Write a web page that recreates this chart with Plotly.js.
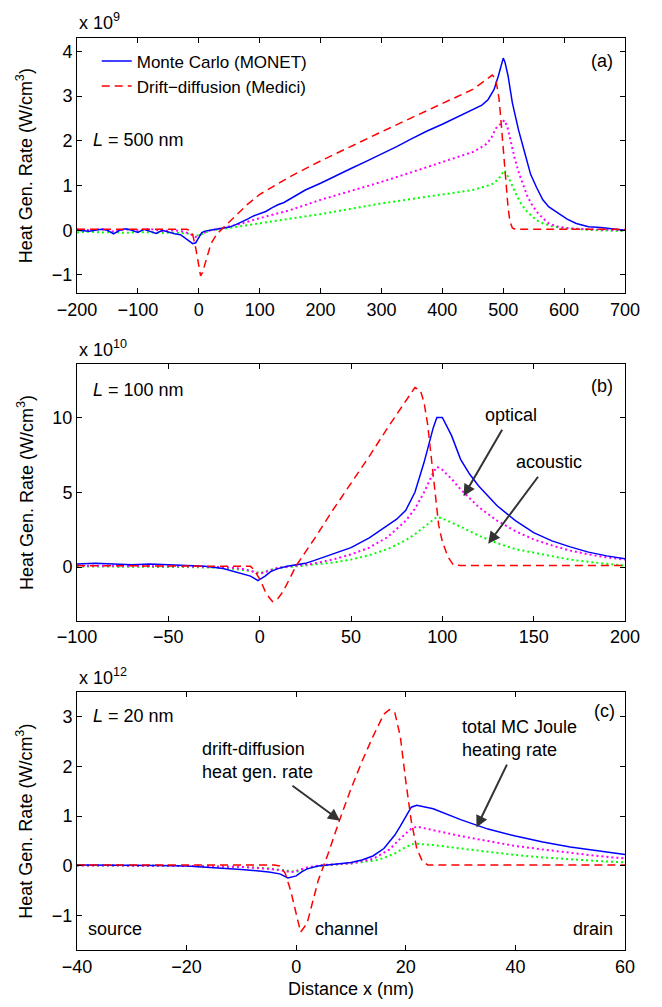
<!DOCTYPE html>
<html>
<head>
<meta charset="utf-8">
<script src="https://cdn.plot.ly/plotly-3.0.1.min.js"></script>
<style>html,body{margin:0;padding:0;background:#fff;}#chart{width:662px;height:1007px;}</style>
</head>
<body>
<div id="chart"></div>
<script>
// ---------- Panel (a): L = 500 nm, values in 1e9 W/cm^3 ----------
var aX_mc = [-200,-180,-170,-160,-150,-140,-130,-120,-110,-100,-90,-80,-70,-60,-50,-40,-30,-20,-15,-10,-5,0,5,10,20,30,40,50,60,70,80,90,100,110,120,130,140,150,160,175,200,225,250,275,300,325,350,375,400,425,450,465,475,485,492,497,500,503,508,515,525,535,545,555,565,575,590,605,620,640,660,680,700];
var aY_mc = [0.0,-0.02,0.0,0.02,0.0,-0.08,0.0,0.03,0.0,-0.05,0.02,-0.02,-0.07,0.0,-0.04,-0.08,-0.1,-0.2,-0.27,-0.3,-0.28,-0.15,-0.05,-0.02,0.0,0.02,0.04,0.07,0.12,0.18,0.25,0.32,0.37,0.42,0.5,0.57,0.62,0.7,0.78,0.9,1.05,1.22,1.38,1.54,1.7,1.87,2.05,2.22,2.37,2.53,2.7,2.8,2.92,3.15,3.45,3.72,3.85,3.75,3.45,2.85,2.25,1.75,1.25,0.95,0.68,0.52,0.38,0.25,0.15,0.08,0.06,0.03,0.0];
var aX_dd = [-200,-20,-15,-10,-5,0,3,6,10,15,20,30,40,50,60,80,100,125,150,200,250,300,350,400,450,482,487,490,493,496,499,502,505,508,511,515,520,700];
var aY_dd = [0.02,0.02,0.0,-0.1,-0.4,-0.85,-1.02,-0.95,-0.75,-0.5,-0.3,-0.08,0.05,0.18,0.33,0.58,0.8,1.0,1.2,1.55,1.88,2.2,2.52,2.83,3.15,3.47,3.4,3.2,2.95,2.5,2.0,1.5,0.95,0.5,0.2,0.05,0.02,0.02];
var aX_opt = [-200,-180,-160,-140,-120,-100,-80,-60,-40,-25,-15,-5,0,10,20,40,70,100,150,200,250,300,350,400,450,470,480,488,495,502,507,512,519,526,533,540,548,556,565,575,590,610,640,700];
var aY_opt = [0.02,0.0,0.03,-0.03,0.02,0.0,0.03,-0.02,0.0,-0.03,-0.08,-0.15,-0.12,-0.05,0.0,0.05,0.15,0.27,0.45,0.68,0.88,1.08,1.3,1.52,1.75,1.9,2.05,2.28,2.38,2.46,2.3,2.0,1.6,1.27,1.0,0.75,0.55,0.4,0.27,0.15,0.08,0.04,0.02,0.0];
var aX_ac = [-200,-180,-160,-140,-120,-100,-80,-60,-40,-20,-10,0,10,20,50,100,150,200,250,300,350,400,450,475,485,495,502,508,515,522,529,537,545,555,566,580,595,620,650,700];
var aY_ac = [-0.05,-0.03,-0.05,-0.04,-0.06,-0.04,-0.05,-0.06,-0.05,-0.07,-0.1,-0.12,-0.05,0.0,0.05,0.15,0.25,0.36,0.48,0.6,0.7,0.8,0.9,1.0,1.05,1.2,1.34,1.2,0.97,0.78,0.6,0.45,0.34,0.22,0.15,0.09,0.05,0.02,0.0,-0.02];

// ---------- Panel (b): L = 100 nm, values in 1e10 W/cm^3 ----------
var bX_mc = [-100,-90,-80,-70,-60,-50,-40,-30,-20,-15,-10,-5,-1,3,6,10,15,20,25,30,40,50,60,70,75,80,85,90,95,97,100,105,110,115,120,130,140,150,160,170,180,190,200];
var bY_mc = [0.2,0.25,0.2,0.15,0.2,0.15,0.1,0.05,-0.1,-0.25,-0.4,-0.6,-0.9,-0.6,-0.3,-0.1,0.05,0.15,0.25,0.45,0.85,1.3,1.95,2.75,3.2,3.8,5.0,7.0,9.3,10.0,10.0,8.8,7.2,6.2,5.4,4.1,3.1,2.3,1.75,1.35,1.0,0.75,0.55];
var bX_dd = [-100,-10,-5,-3,0,3,5,7,10,13,16,20,25,30,40,50,60,70,80,85,88,90,92,94,96,98,100,103,106,110,200];
var bY_dd = [0.1,0.1,0.05,-0.2,-0.8,-1.6,-2.0,-2.3,-2.1,-1.6,-0.9,0.1,1.0,1.9,3.8,5.6,7.4,9.3,11.1,12.0,11.8,11.0,9.5,7.3,5.0,2.8,1.7,0.7,0.15,0.1,0.1];
var bX_opt = [-100,-80,-60,-40,-20,-10,-5,0,5,10,20,30,40,50,60,70,80,85,90,95,97,100,105,110,120,130,140,150,160,170,180,190,200];
var bY_opt = [0.1,0.1,0.1,0.05,0.0,-0.1,-0.25,-0.45,-0.25,-0.05,0.1,0.25,0.5,0.85,1.3,2.0,3.1,3.9,5.0,6.3,6.7,6.5,5.9,5.2,4.0,3.1,2.4,1.85,1.45,1.1,0.85,0.65,0.5];
var bX_ac = [-100,-80,-60,-40,-20,-10,-5,0,5,10,20,30,40,50,60,70,80,85,90,95,97,100,105,110,120,130,140,150,160,170,180,190,200];
var bY_ac = [0.05,0.05,0.05,0.0,-0.05,-0.15,-0.25,-0.4,-0.2,-0.05,0.05,0.15,0.3,0.5,0.8,1.2,1.8,2.2,2.7,3.2,3.35,3.25,3.0,2.7,2.1,1.6,1.2,0.95,0.7,0.5,0.35,0.2,0.1];

// ---------- Panel (c): L = 20 nm, values in 1e12 W/cm^3 ----------
var cX_mc = [-40,-35,-30,-25,-20,-15,-10,-5,-3,-1.5,0,1,2,4,6,8,10,12,14,16,18,19,20,21,22,25,30,33,35,40,45,50,55,60];
var cY_mc = [0.02,0.02,0.01,0.01,0.0,-0.03,-0.07,-0.12,-0.16,-0.24,-0.2,-0.12,-0.06,0.0,0.02,0.04,0.07,0.12,0.2,0.35,0.62,0.8,1.0,1.18,1.22,1.15,0.93,0.82,0.74,0.6,0.48,0.38,0.3,0.23];
var cX_dd = [-40,-4,-3,-2,-1,0,0.8,2,3,4,5,6,8,10,12,14,16,17,18,19,20,21,22,23,24,60];
var cY_dd = [0.02,0.02,0.0,-0.15,-0.5,-1.0,-1.33,-1.15,-0.7,-0.3,0.0,0.3,0.95,1.55,2.1,2.6,3.05,3.14,3.08,2.6,1.7,0.9,0.35,0.1,0.02,0.02];
var cX_opt = [-40,-30,-20,-10,-5,-2,-1,0,2,5,10,14,17,19,21,22,25,30,35,40,45,50,55,60];
var cY_opt = [0.01,0.01,0.0,-0.02,-0.06,-0.1,-0.13,-0.1,-0.03,0.02,0.05,0.14,0.33,0.55,0.75,0.79,0.72,0.6,0.5,0.4,0.33,0.26,0.2,0.15];
var cX_ac = [-40,-30,-20,-10,-5,-2,0,2,4,10,15,18,20,21.5,25,30,35,40,45,50,55,60];
var cY_ac = [0.01,0.01,0.0,-0.02,-0.05,-0.09,-0.12,-0.05,0.0,0.05,0.12,0.25,0.38,0.45,0.42,0.35,0.28,0.22,0.17,0.13,0.1,0.07];

var seriesNames = ["Monte Carlo (MONET)", "Drift\u2212diffusion (Medici)", "optical", "acoustic"];
var yTitle = "Heat Gen. Rate (W/cm<sup>3</sup>)";
var xTitle = "Distance x (nm)";

var FONT = "Liberation Sans, Arial, Helvetica, sans-serif";
var FS = 18;

var styles = [
  {color: "#0000ff", width: 1.5, dash: "solid"},
  {color: "#ff0000", width: 1.5, dash: "8px,5px"},
  {color: "#ff00ff", width: 2, dash: "2px,3px"},
  {color: "#00ff00", width: 2, dash: "2px,3px"}
];

function tr(x, y, k, xa, ya, show) {
  return {x: x, y: y, type: "scatter", mode: "lines", name: seriesNames[k],
    xaxis: xa, yaxis: ya, showlegend: !!show, hoverinfo: "skip",
    line: {color: styles[k].color, width: styles[k].width, dash: styles[k].dash}};
}

var data = [
  tr(aX_ac, aY_ac, 3, "x", "y", false),
  tr(aX_opt, aY_opt, 2, "x", "y", false),
  tr(aX_mc, aY_mc, 0, "x", "y", true),
  tr(aX_dd, aY_dd, 1, "x", "y", true),
  tr(bX_ac, bY_ac, 3, "x2", "y2", false),
  tr(bX_opt, bY_opt, 2, "x2", "y2", false),
  tr(bX_mc, bY_mc, 0, "x2", "y2", false),
  tr(bX_dd, bY_dd, 1, "x2", "y2", false),
  tr(cX_ac, cY_ac, 3, "x3", "y3", false),
  tr(cX_opt, cY_opt, 2, "x3", "y3", false),
  tr(cX_mc, cY_mc, 0, "x3", "y3", false),
  tr(cX_dd, cY_dd, 1, "x3", "y3", false)
];

var tf = {family: FONT, size: FS, color: "#000"};

function xax(range, dtick, anchor, title) {
  var o = {range: range, dtick: dtick, tick0: 0, anchor: anchor, domain: [0, 1],
    showline: true, linecolor: "#000", linewidth: 1, mirror: "ticks",
    ticks: "inside", ticklen: 5, tickcolor: "#000", showgrid: false, zeroline: false,
    tickfont: tf, fixedrange: true};
  if (title) o.title = {text: title, font: tf, standoff: 6};
  return o;
}
function yax(range, dtick, anchor, domain) {
  return {range: range, dtick: dtick, tick0: 0, anchor: anchor, domain: domain,
    showline: true, linecolor: "#000", linewidth: 1, mirror: "ticks",
    ticks: "inside", ticklen: 5, tickcolor: "#000", showgrid: false, zeroline: false,
    tickfont: tf, fixedrange: true,
    title: {text: yTitle, font: tf, standoff: 14}};
}

function txt(text, xref, yref, x, y, xanchor) {
  return {text: text, xref: xref, yref: yref, x: x, y: y, xanchor: xanchor || "left",
    yanchor: "middle", showarrow: false, font: tf, align: "left"};
}
// text label with an arrow pointing from the label to (hx, hy)
function label(text, xref, yref, tx, ty, hx, hy) {
  return {text: text, xref: xref, yref: yref, axref: xref, ayref: yref,
    x: hx, y: hy, ax: tx, ay: ty, showarrow: true, arrowhead: 2, arrowsize: 1.2,
    arrowwidth: 2, arrowcolor: "#333", standoff: 0, startstandoff: 4,
    font: tf, align: "left"};
}

var annotations = [
  txt("x 10<sup>9</sup>", "paper", "paper", 0, 1.018),
  txt("x 10<sup>10</sup>", "paper", "paper", 0, 0.660),
  txt("x 10<sup>12</sup>", "paper", "paper", 0, 0.300),
  txt("<i>L</i> = 500 nm", "x domain", "y domain", 0.025, 0.601),
  txt("<i>L</i> = 100 nm", "x2 domain", "y2 domain", 0.025, 0.90),
  txt("<i>L</i> = 20 nm", "x3 domain", "y3 domain", 0.025, 0.908),
  txt("(a)", "x domain", "y domain", 0.958, 0.909, "center"),
  txt("(b)", "x2 domain", "y2 domain", 0.958, 0.915, "center"),
  txt("(c)", "x3 domain", "y3 domain", 0.963, 0.927, "center"),
  label("optical", "x2", "y2", 137.5, 10.17, 111.6, 4.73),
  label("acoustic", "x2", "y2", 158.4, 7.02, 125.1, 1.56),
  label("drift-diffusion<br>heat gen. rate", "x3", "y3", -7.0, 2.12, 8.0, 0.91),
  label("total MC Joule<br>heating rate", "x3", "y3", 40.8, 2.57, 32.9, 0.77),
  txt("source", "x3 domain", "y3 domain", 0.0165, 0.081),
  txt("channel", "x3 domain", "y3 domain", 0.431, 0.081),
  txt("drain", "x3 domain", "y3 domain", 0.982, 0.081, "right")
];

var layout = {
  width: 662, height: 1007,
  margin: {l: 77, r: 37, t: 38, b: 57},
  paper_bgcolor: "#fff", plot_bgcolor: "#fff",
  font: tf,
  showlegend: true,
  legend: {x: 0.036, y: 0.994, xanchor: "left", yanchor: "top", bgcolor: "rgba(0,0,0,0)",
    borderwidth: 0, font: {family: FONT, size: 17, color: "#000"}, itemwidth: 30,
    traceorder: "normal", tracegroupgap: 0},
  xaxis: xax([-200, 700], 100, "y"),
  xaxis2: xax([-100, 200], 50, "y2"),
  xaxis3: xax([-40, 60], 20, "y3", xTitle),
  yaxis: yax([-1.41, 4.30], 1, "x", [0.7201, 1.0]),
  yaxis2: yax([-3.58, 13.55], 5, "x2", [0.3611, 0.6422]),
  yaxis3: yax([-1.69, 3.49], 1, "x3", [0.0, 0.2826]),
  annotations: annotations
};

Plotly.newPlot("chart", data, layout, {displayModeBar: false, staticPlot: true});
</script>
</body>
</html>
